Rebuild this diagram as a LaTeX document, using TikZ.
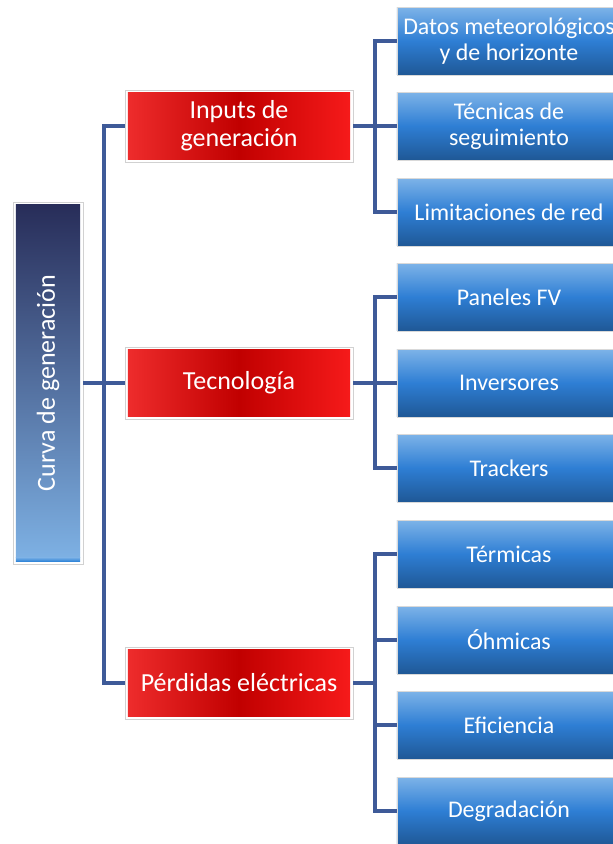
\documentclass[tikz,border=0pt]{standalone}
\usepackage{fontspec}
\usepackage{graphicx}
\setmainfont{Carlito}
\definecolor{linkblue}{HTML}{3E5A98}
\definecolor{navytop}{HTML}{272C58}
\definecolor{rootlow}{HTML}{7FB3E6}
\definecolor{rootstrip}{HTML}{2F84D8}
\definecolor{redleft}{HTML}{EF2D2D}
\definecolor{redmid}{HTML}{C10000}
\definecolor{redright}{HTML}{F71B1B}
\definecolor{bluetop}{HTML}{7DB3E8}
\definecolor{bluemid}{HTML}{2E7ED4}
\definecolor{bluelow}{HTML}{1F5896}
\begin{document}
\begin{tikzpicture}[x=0.025cm,y=-0.025cm,
  link/.style={draw=linkblue,line width=2.3pt},
  framed/.style={draw=black!18,fill=white,inner sep=0pt,text=white,align=center,font=\fontsize{18.5}{20}\selectfont},
  rootbox/.style={framed,minimum width=1.75cm,minimum height=9.05cm,
    path picture={\shade[top color=navytop,bottom color=rootlow]
      ([xshift=2pt,yshift=-2pt]path picture bounding box.north west) rectangle ([xshift=-2pt,yshift=5pt]path picture bounding box.south east);
      \shade[top color=rootlow,bottom color=rootstrip]
      ([xshift=2pt,yshift=5pt]path picture bounding box.south west) rectangle ([xshift=-2pt,yshift=2pt]path picture bounding box.south east);}},
  redbox/.style={framed,minimum width=5.7cm,minimum height=1.8cm,
    path picture={\shade[left color=redleft,right color=redright,middle color=redmid]
      ([xshift=2pt,yshift=-2pt]path picture bounding box.north west) rectangle ([xshift=-2pt,yshift=2pt]path picture bounding box.south east);}},
  leaf/.style={draw=black!15,inner sep=0pt,text=white,align=center,font=\fontsize{17}{18.5}\selectfont,
    minimum width=5.6cm,minimum height=1.69cm,top color=bluetop,bottom color=bluelow,middle color=bluemid}]
\useasboundingbox (0,0) rectangle (613,844);
\node[rootbox] (root) at (48,383) {\rotatebox{90}{Curva de generación}};
\node[redbox] (inp) at (239,126) {Inputs de\\generación};
\node[redbox] (tec) at (239,383) {Tecnología};
\node[redbox] (per) at (239,683) {Pérdidas eléctricas};
\node[leaf] (dat) at (509,41) {Datos meteorológicos\\y de horizonte};
\node[leaf] (seg) at (509,126) {Técnicas de\\seguimiento};
\node[leaf] (lim) at (509,212) {Limitaciones de red};
\node[leaf] (pan) at (509,297) {Paneles FV};
\node[leaf] (inv) at (509,383) {Inversores};
\node[leaf] (tra) at (509,468) {Trackers};
\node[leaf] (ter) at (509,554) {Térmicas};
\node[leaf] (ohm) at (509,640) {Óhmicas};
\node[leaf] (efi) at (509,725) {Eficiencia};
\node[leaf] (deg) at (509,811) {Degradación};
\coordinate (hub) at (104,383);
\coordinate (hubinp) at (375,126);
\coordinate (hubtec) at (375,383);
\coordinate (hubper) at (375,683);
\draw[link] (root.east) -- (hub);
\draw[link] (inp.west) -| (hub) |- (per.west);
\draw[link] (hub) -- (tec.west);
\draw[link] (inp.east) -- (hubinp);
\draw[link] (dat.west) -| (hubinp) |- (lim.west);
\draw[link] (hubinp) -- (seg.west);
\draw[link] (tec.east) -- (hubtec);
\draw[link] (pan.west) -| (hubtec) |- (tra.west);
\draw[link] (hubtec) -- (inv.west);
\draw[link] (per.east) -- (hubper);
\draw[link] (ter.west) -| (hubper) |- (deg.west);
\draw[link] (ohm.west) -| (hubper) |- (efi.west);
\end{tikzpicture}
\end{document}
